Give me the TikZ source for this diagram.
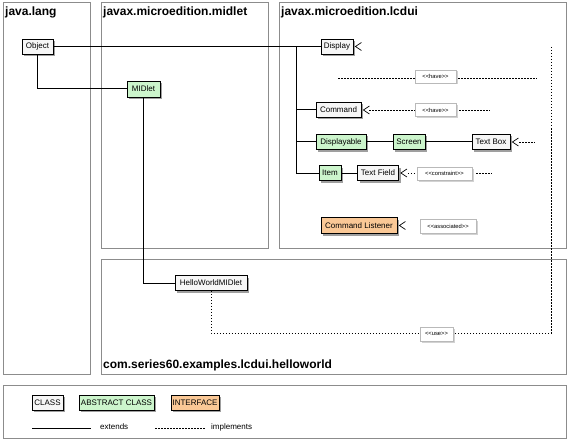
\documentclass[tikz,border=0pt]{standalone}
\usepackage{fontspec}
\setmainfont{Liberation Sans}
\usetikzlibrary{shadows,calc}
\definecolor{absfill}{RGB}{204,245,204}
\definecolor{intfill}{RGB}{250,200,150}
\definecolor{clsfill}{RGB}{246,246,246}
\definecolor{pkgline}{RGB}{140,140,140}
\newcommand{\stereo}[1]{<{}<#1>{}>}
\begin{document}
\begin{tikzpicture}[x=1pt,y=-1pt,
 pkg/.style={draw=pkgline, line width=1pt},
 pkglabel/.style={font=\fontsize{12}{14}\selectfont\bfseries, anchor=base west, inner sep=0},
 sz/.style 2 args={minimum width=#1pt, minimum height=#2pt},
 box/.style={draw=black, line width=0.8pt, inner sep=0, font=\fontsize{8}{9}\selectfont, drop shadow={shadow xshift=2pt, shadow yshift=-2pt, fill=gray!75, opacity=1}},
 cls/.style={box, fill=clsfill},
 abs/.style={box, fill=absfill},
 intf/.style={box, fill=intfill},
 ster/.style={draw=gray!55, line width=0.6pt, fill=white, inner sep=0, font=\fontsize{5.8}{7}\selectfont, drop shadow={shadow xshift=1.5pt, shadow yshift=-1.5pt, fill=gray!35, opacity=1}},
 ext/.style={line width=1pt},
 impl/.style={line width=0.8pt, dash pattern=on 1.5pt off 1.5pt},
 barb/.style={line width=0.7pt},
 legtext/.style={font=\fontsize{8}{9}\selectfont, anchor=west, inner sep=0}
]
\useasboundingbox (0,0) rectangle (570,441);
\fill[white] (0,0) rectangle (570,441);

% packages
\draw[pkg] (3,3) rectangle (90,374);
\draw[pkg] (101,3) rectangle (268,248);
\draw[pkg] (279,3) rectangle (566,248);
\draw[pkg] (101,259) rectangle (566,374);
\draw[pkg] (3,385) rectangle (566,438);
\node[pkglabel] (l1) at (5,16) {java.lang};
\node[pkglabel] (l2) at (103,16) {javax.microedition.midlet};
\node[pkglabel] (l3) at (281,16) {javax.microedition.lcdui};
\node[pkglabel] (l4) at (103,368) {com.series60.examples.lcdui.helloworld};

% classes
\node[cls, sz={31}{15}] (obj) at (37.5,46.5) {Object};
\node[abs, sz={33}{16}] (midlet) at (143.5,89) {MIDlet};
\node[cls, sz={32}{15}] (disp) at (337,46.5) {Display};
\node[cls, sz={45}{15}] (cmd) at (338.5,110) {Command};
\node[abs, sz={50}{15}] (dable) at (341,142) {Displayable};
\node[abs, sz={32}{15}] (screen) at (409,142) {Screen};
\node[cls, sz={38}{15}] (tbox) at (491,142) {Text Box};
\node[abs, sz={22}{15}] (item) at (330,173) {Item};
\node[cls, sz={41}{15}] (tfield) at (378,173) {Text Field};
\node[intf, sz={76}{16}] (clist) at (359,225.5) {Command Listener};
\node[cls, sz={72}{15}] (hw) at (211,283) {HelloWorldMIDlet};

% stereotypes
\node[ster, sz={41}{13}] (have1) at (435.5,76.5) {\stereo{have}};
\node[ster, sz={41}{13}] (have2) at (435.5,110) {\stereo{have}};
\node[ster, sz={55}{13}] (constr) at (444.5,173.5) {\stereo{constraint}};
\node[ster, sz={56}{14}] (assoc) at (448,226) {\stereo{associated}};
\node[ster, sz={33}{14}] (use) at (436.5,334) {\stereo{use}};

% extends connectors
\coordinate (trunk) at (296,46.5);
\draw[ext] (obj.east) -- (disp.west);
\draw[ext] (obj.south) |- (midlet.west);
\draw[ext] (midlet.south) |- (hw.west);
\draw[ext] (trunk) |- (item.west);
\draw[ext] (trunk|-cmd.west) -- (cmd.west);
\draw[ext] (trunk|-dable.west) -- (dable.west);
\draw[ext] (dable.east) -- (screen.west);
\draw[ext] (screen.east) -- (tbox.west);
\draw[ext] (item.east) -- (tfield.west);

% open barbs
\foreach \n in {disp,cmd,tbox,tfield,clist}{
  \draw[barb] ($(\n.east)+(8,-4)$) -- ($(\n.east)+(2,0)$) -- ($(\n.east)+(8,4)$);
}

% implements / dependency connectors
\coordinate (h1s) at (338,78);
\coordinate (h1e) at (537,78);
\draw[impl] (h1s) -- (have1.west|-h1s);
\draw[impl] ([xshift=2pt]have1.east|-h1e) -- (h1e);
\coordinate (c2e) at (490,110);
\draw[impl] ([xshift=8pt]cmd.east) -- (have2.west);
\draw[impl] ([xshift=3pt]have2.east) -- (c2e);
\coordinate (tbe) at (535,142);
\draw[impl] ([xshift=9pt]tbox.east) -- (tbe);
\coordinate (tfe) at (492,173);
\draw[impl] ([xshift=9pt]tfield.east) -- (constr.west|-tfield.east);
\coordinate (tfs) at (476,173);
\draw[impl] (tfs) -- (tfe);
\coordinate (vtop) at (551,47);
\coordinate (vbot) at (551,333);
\draw[impl] (vtop) -- (vbot) -- (use.east|-vbot);
\draw[impl] (hw.south) |- (use.west|-vbot);

% legend
\node[cls, sz={31}{15}] (lc) at (47.5,402.5) {CLASS};
\node[abs, sz={75}{15}] (la) at (116.5,402.5) {ABSTRACT CLASS};
\node[intf, sz={48}{15}] (li) at (195,402.5) {INTERFACE};
\coordinate (e1) at (32,428);
\coordinate (e2) at (91,428);
\draw[line width=0.9pt] (e1) -- (e2);
\node[legtext] (et) at (100,427) {extends};
\coordinate (i1) at (155,428);
\coordinate (i2) at (205,428);
\draw[impl] (i1) -- (i2);
\node[legtext] (it) at (211,427) {implements};
\end{tikzpicture}
\end{document}
